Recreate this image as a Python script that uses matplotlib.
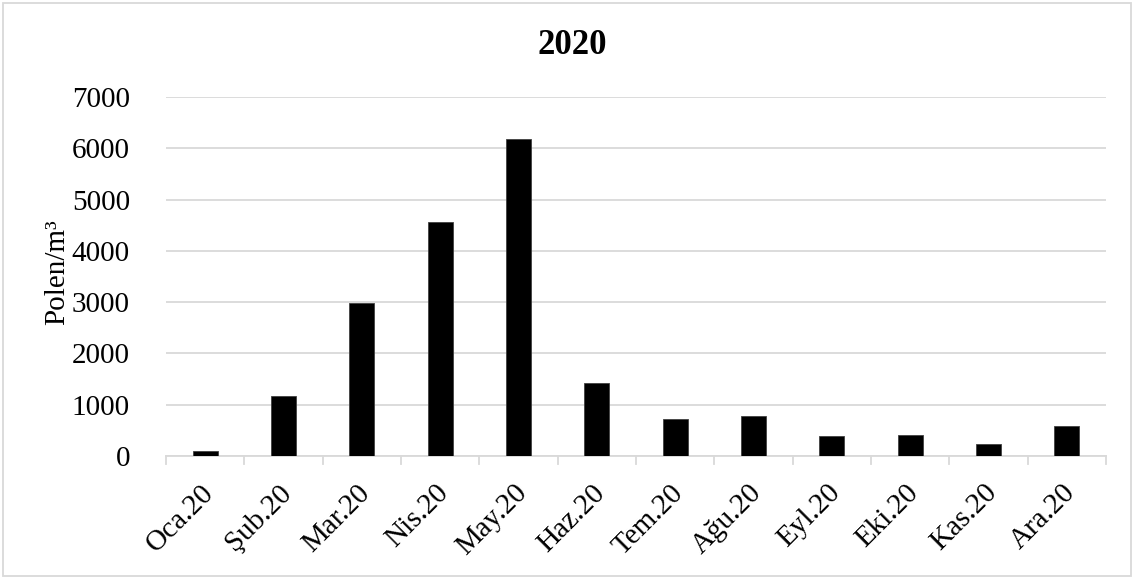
import matplotlib
matplotlib.use("Agg")
import matplotlib.pyplot as plt
from matplotlib.patches import Rectangle
from matplotlib.transforms import ScaledTranslation

plt.rcParams['font.family'] = ['Liberation Serif', 'DejaVu Serif']

months = ["Oca.20", "Şub.20", "Mar.20", "Nis.20", "May.20", "Haz.20",
          "Tem.20", "Ağu.20", "Eyl.20", "Eki.20", "Kas.20", "Ara.20"]
pollen = [105, 1170, 2975, 4565, 6180, 1420, 715, 785, 390, 410, 235, 585]
yticks = [0, 1000, 2000, 3000, 4000, 5000, 6000, 7000]

grid_color = "#d9d9d9"

fig = plt.figure(figsize=(11.35, 5.79), dpi=100)
ax = fig.add_axes([166 / 1135, 1 - 456 / 579, 940 / 1135, 359 / 579])

x = list(range(len(months)))
ax.bar(x, pollen, width=0.32, color="black", edgecolor="#404040", linewidth=0.6, zorder=3)

ax.set_xlim(-0.5, len(months) - 0.5)
ax.set_ylim(0, 7000)
ax.set_yticks(yticks)
ax.set_yticklabels([str(v) for v in yticks], fontsize=21)
ax.tick_params(axis="y", length=0, pad=26)
ax.yaxis.grid(True, color=grid_color, linewidth=1.3, zorder=0)
ax.set_axisbelow(True)

# category labels centred under bars, tick marks on category boundaries
ax.set_xticks(x)
ax.set_xticklabels(months, rotation=45, ha="right", rotation_mode="anchor", fontsize=21)
ax.tick_params(axis="x", length=0, pad=17)
shift = ScaledTranslation(-5 / 100, 0, fig.dpi_scale_trans)
for lbl in ax.get_xticklabels():
    lbl.set_transform(lbl.get_transform() + shift)
for b in [i - 0.5 for i in range(len(months) + 1)]:
    ax.plot([b, b], [0, -0.022], transform=ax.get_xaxis_transform(),
            color=grid_color, linewidth=1.3, clip_on=False, zorder=1)

for side in ["left", "right", "top"]:
    ax.spines[side].set_visible(False)
ax.spines["bottom"].set_color(grid_color)
ax.spines["bottom"].set_linewidth(1.3)

fig.text(57 / 1135, 1 - 272 / 579, "Polen/m³", rotation=90, ha="center", va="center", fontsize=21)
fig.text(572 / 1135, 1 - 45 / 579, "2020", ha="center", va="center", fontsize=25, fontweight="bold")

fig.patches.append(Rectangle((3 / 1135, 3 / 579), 1128 / 1135, 573 / 579, transform=fig.transFigure,
                             fill=False, edgecolor=grid_color, linewidth=1.3))

fig.savefig("out.png", dpi=100)
